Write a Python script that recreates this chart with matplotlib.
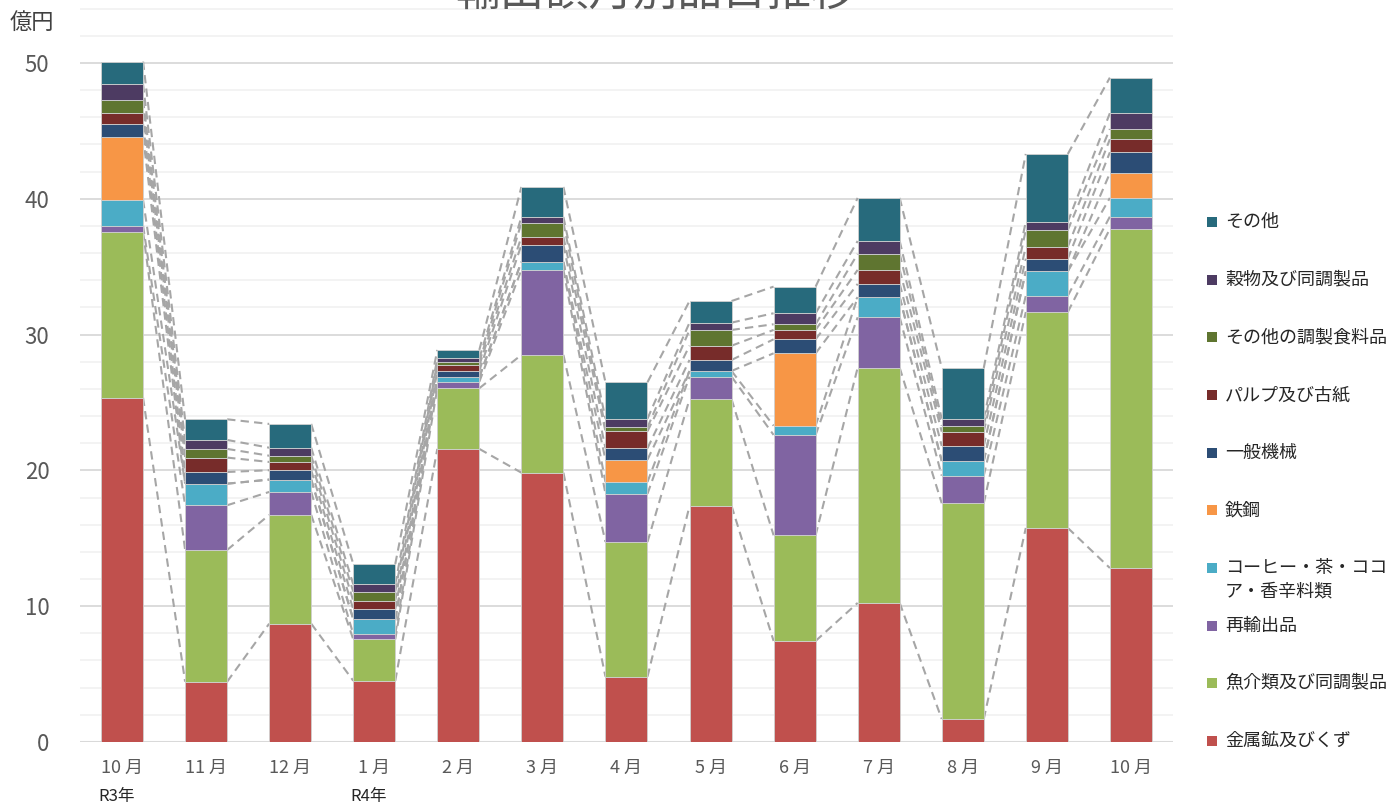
import numpy as np
import matplotlib
matplotlib.use("Agg")
import matplotlib.pyplot as plt
from matplotlib.patches import Rectangle

plt.rcParams['font.family'] = ['Noto Sans CJK JP', 'DejaVu Sans']

# 月ラベル
meses = ["10 月", "11 月", "12 月", "1 月", "2 月", "3 月", "4 月",
         "5 月", "6 月", "7 月", "8 月", "9 月", "10 月"]
anos = {0: "R3年", 3: "R4年"}

# 品目別の値（億円）、下から順
kinzoku = [25.35, 4.44, 8.71, 4.51, 21.58, 19.83, 4.81, 17.38, 7.44, 10.24, 1.69, 15.76, 12.81]
gyokai = [12.21, 9.70, 8.01, 3.05, 4.47, 8.67, 9.92, 7.86, 7.78, 17.32, 15.89, 15.90, 24.97]
saiyushutsu = [0.46, 3.29, 1.69, 0.39, 0.48, 6.26, 3.55, 1.66, 7.39, 3.71, 2.03, 1.20, 0.90]
coffee = [1.89, 1.59, 0.91, 1.09, 0.35, 0.59, 0.87, 0.42, 0.68, 1.48, 1.08, 1.80, 1.38]
tekko = [4.66, 0, 0, 0, 0, 0, 1.64, 0, 5.33, 0, 0, 0, 1.82]
kikai = [0.92, 0.86, 0.69, 0.73, 0.46, 1.25, 0.84, 0.81, 1.03, 0.98, 1.11, 0.93, 1.54]
pulp = [0.85, 1.06, 0.61, 0.63, 0.40, 0.59, 1.25, 1.05, 0.69, 1.03, 1.05, 0.88, 0.96]
chousei = [0.94, 0.64, 0.46, 0.67, 0.22, 1.03, 0.29, 1.16, 0.42, 1.18, 0.44, 1.23, 0.76]
kokumotsu = [1.15, 0.66, 0.59, 0.54, 0.29, 0.44, 0.64, 0.54, 0.81, 0.95, 0.52, 0.61, 1.16]
sonota = [1.67, 1.52, 1.75, 1.50, 0.62, 2.21, 2.68, 1.59, 1.96, 3.17, 3.73, 4.99, 2.62]

series = [kinzoku, gyokai, saiyushutsu, coffee, tekko, kikai, pulp, chousei, kokumotsu, sonota]
nomes = ["金属鉱及びくず", "魚介類及び同調製品", "再輸出品", "コーヒー・茶・ココ\nア・香辛料類",
         "鉄鋼", "一般機械", "パルプ及び古紙", "その他の調製食料品", "穀物及び同調製品", "その他"]
cores = ["#C0504D", "#9BBB59", "#8064A2", "#4BACC6", "#F79646",
         "#2C4D75", "#772C2A", "#5F7530", "#4D3B62", "#276A7C"]

fig = plt.figure(figsize=(13.94, 8.05), dpi=100)
ax = fig.add_axes([0.0574, 0.0783, 0.784, 0.9447])

x = np.arange(len(meses))
largura = 0.5
base = np.zeros(len(meses))
topos = []
for vals, cor in zip(series, cores):
    v = np.array(vals)
    ax.bar(x, v, largura, bottom=base, color=cor, edgecolor="#D0D0D0", linewidth=0.6, zorder=3)
    base = base + v
    topos.append(base.copy())

# 区分線（破線）
for topo in topos:
    for i in range(len(x) - 1):
        ax.plot([x[i] + largura / 2, x[i + 1] - largura / 2], [topo[i], topo[i + 1]],
                color="#A6A6A6", linestyle=(0, (4, 2.5)), linewidth=1.5, zorder=2)

ax.set_xlim(-0.5, len(meses) - 0.5)
ax.set_ylim(0, 56)
ax.set_yticks(np.arange(0, 51, 10))
ax.set_yticks(np.arange(0, 56, 2), minor=True)
ax.grid(axis="y", which="major", color="#D9D9D9", linewidth=1.3, zorder=0)
ax.grid(axis="y", which="minor", color="#F2F2F2", linewidth=1.3, zorder=0)
ax.set_axisbelow(True)
for s in ax.spines.values():
    s.set_visible(False)
ax.axhline(0, color="#D9D9D9", linewidth=1.5, zorder=1)

ax.set_xticks(x)
ax.set_xticklabels(meses, fontsize=13, color="#595959")
ax.tick_params(axis="x", length=0, pad=12)
ax.tick_params(axis="y", which="both", length=0, pad=22, labelsize=16, labelcolor="#595959")

for i, t in anos.items():
    ax.text(i - 0.28, -0.072, t, transform=ax.get_xaxis_transform(), ha="left", va="center",
            fontsize=12, color="#262626")

fig.text(0.007, 0.972, "億円", fontsize=16, color="#404040", ha="left", va="center")
fig.text(0.47, 0.982, "輸出額月別品目推移", fontsize=32, color="#595959", ha="center", va="bottom")

# 凡例（上から その他 → 金属鉱）
y0 = 805 - 222
passo = (741 - 222) / 9
for k, (nome, cor) in enumerate(zip(nomes[::-1], cores[::-1])):
    yc = (y0 - k * passo) / 805
    fig.patches.append(Rectangle((1207 / 1394, yc - 5 / 805), 10 / 1394, 10 / 805,
                                 transform=fig.transFigure, facecolor=cor, edgecolor="none"))
    fig.text(1225 / 1394, yc + 9 / 805, nome, fontsize=13, color="#262626",
             ha="left", va="top", linespacing=1.4)

fig.savefig("out.png", dpi=100)
